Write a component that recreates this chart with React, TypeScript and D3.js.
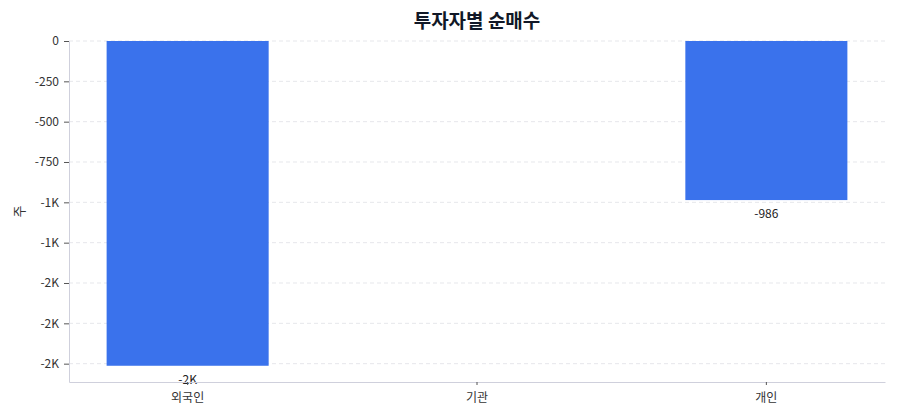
import React, { useEffect, useRef } from "react";
import * as d3 from "d3";

// investor categories and net purchase (shares)
const investors = ["외국인", "기관", "개인"];
const netBuy = [-2013, 0, -986];
const yTicks = [0, -250, -500, -750, -1000, -1250, -1500, -1750, -2000];

const title = "투자자별 순매수";
const yLabel = "주";

const fmt = (v: number): string =>
  Math.abs(v) >= 1000 ? `${(v / 1000).toFixed(0)}K` : `${v}`;

export default function App() {
  const ref = useRef<SVGSVGElement | null>(null);

  useEffect(() => {
    const width = 900;
    const height = 420;
    const marginTop = 41;
    const marginRight = 15;
    const marginBottom = 38;
    const marginLeft = 69;
    const font = "'Noto Sans CJK KR', 'Noto Sans', sans-serif";

    const svg = d3.select(ref.current!);
    svg.selectAll("*").remove();

    const x = d3
      .scaleBand<string>()
      .domain(investors)
      .range([marginLeft, width - marginRight])
      .paddingInner(0.44)
      .paddingOuter(0.13);

    const minV = d3.min(netBuy) ?? 0;
    const y = d3
      .scaleLinear()
      .domain([minV * 1.05, 0])
      .range([height - marginBottom, marginTop]);

    // grid
    svg
      .append("g")
      .selectAll("line")
      .data(yTicks)
      .join("line")
      .attr("x1", marginLeft)
      .attr("x2", width - marginRight)
      .attr("y1", (d) => y(d))
      .attr("y2", (d) => y(d))
      .attr("stroke", "#e6e7eb")
      .attr("stroke-dasharray", "4,3");

    // bars
    const data = investors.map((k, i) => ({ k, v: netBuy[i] }));
    svg
      .append("g")
      .selectAll("rect")
      .data(data)
      .join("rect")
      .attr("x", (d) => x(d.k)!)
      .attr("width", x.bandwidth())
      .attr("y", (d) => Math.min(y(d.v), y(0)))
      .attr("height", (d) => Math.abs(y(d.v) - y(0)))
      .attr("fill", "#3a72ec");

    // value labels
    svg
      .append("g")
      .selectAll("text")
      .data(data.filter((d) => d.v !== 0))
      .join("text")
      .attr("x", (d) => x(d.k)! + x.bandwidth() / 2)
      .attr("y", (d) => y(d.v) + 18)
      .attr("text-anchor", "middle")
      .attr("font-family", font)
      .attr("font-size", 12)
      .attr("fill", "#222")
      .text((d) => fmt(d.v));

    // y axis
    svg
      .append("g")
      .attr("transform", `translate(${marginLeft},0)`)
      .call(
        d3
          .axisLeft(y)
          .tickValues(yTicks)
          .tickFormat((d) => fmt(d as number))
          .tickSize(5)
          .tickPadding(5)
          .tickSizeOuter(0)
      )
      .call((g) => g.select(".domain").attr("stroke", "#cfd0dc"))
      .call((g) => g.selectAll(".tick line").attr("stroke", "#555"))
      .call((g) =>
        g
          .selectAll(".tick text")
          .attr("font-family", font)
          .attr("font-size", 12)
          .attr("fill", "#333")
      );

    // x axis
    svg
      .append("g")
      .attr("transform", `translate(0,${height - marginBottom})`)
      .call(d3.axisBottom(x).tickSize(3).tickPadding(8).tickSizeOuter(0))
      .call((g) => g.select(".domain").attr("stroke", "#cfd0dc"))
      .call((g) => g.selectAll(".tick line").attr("stroke", "#555"))
      .call((g) =>
        g
          .selectAll(".tick text")
          .attr("font-family", font)
          .attr("font-size", 12)
          .attr("fill", "#333")
      );

    // y label
    svg
      .append("text")
      .attr("transform", `translate(20,${(marginTop + height - marginBottom) / 2}) rotate(-90)`)
      .attr("text-anchor", "middle")
      .attr("dominant-baseline", "middle")
      .attr("font-family", font)
      .attr("font-size", 13)
      .attr("fill", "#333")
      .text(yLabel);

    // title
    svg
      .append("text")
      .attr("x", (marginLeft + width - marginRight) / 2)
      .attr("y", 28)
      .attr("text-anchor", "middle")
      .attr("font-family", font)
      .attr("font-size", 19)
      .attr("font-weight", "bold")
      .attr("fill", "#111827")
      .text(title);
  }, []);

  return (
    <svg
      ref={ref}
      width={900}
      height={420}
      style={{ position: "absolute", left: 0, top: 0, background: "#fff" }}
    />
  );
}
